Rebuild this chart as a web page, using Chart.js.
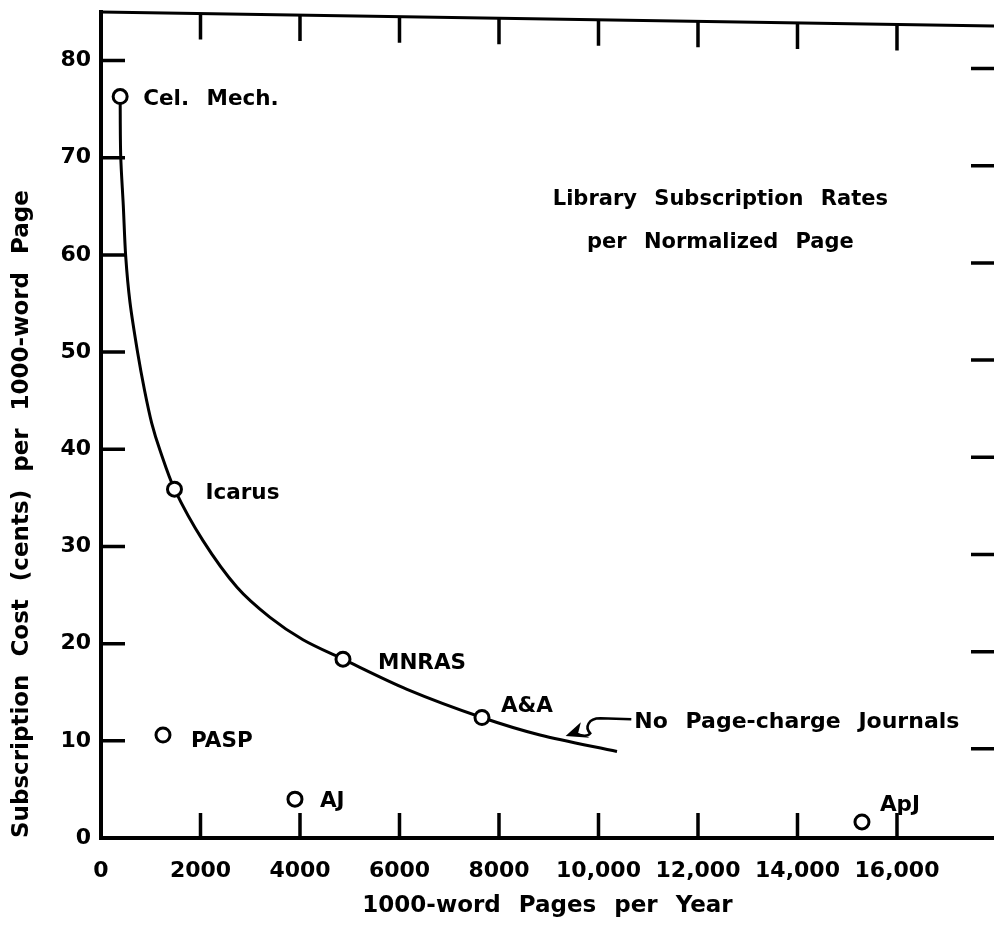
<!DOCTYPE html>
<html>
<head>
<meta charset="utf-8">
<script src="https://cdn.jsdelivr.net/npm/chart.js@4/dist/chart.umd.min.js"></script>
<style>
  html, body { margin: 0; padding: 0; background: #fff; overflow: hidden; }
  #wrap { width: 994px; height: 934px; }
</style>
</head>
<body>
<div id="wrap"><canvas id="c" width="994" height="934"></canvas></div>
<script>
// ---- Data ----
const journals      = ['Cel. Mech.', 'Icarus', 'MNRAS', 'A&A', 'PASP', 'AJ', 'ApJ'];
const pagesPerYear  = [385, 1477, 4864, 7658, 1246, 3899, 15296];
const costCents     = [76.3, 35.9, 18.4, 12.4, 10.6, 4.0, 1.65];

// curve "No Page-charge Journals"
const curvePages = [385, 396, 448, 496, 583, 738, 874, 1019, 1186, 1477,
                    2050, 2734, 3397, 4060, 4864, 6151, 7658, 8824, 10372];
const curveCost  = [76.3, 70.2, 65.1, 59.9, 55.1, 49.9, 46.1, 42.7, 39.9, 35.9,
                    30.6, 25.8, 22.7, 20.4, 18.4, 15.3, 12.4, 10.6, 8.9];

const xTickValues = [0, 2000, 4000, 6000, 8000, 10000, 12000, 14000, 16000];
const xTickLabels = ['0', '2000', '4000', '6000', '8000', '10,000', '12,000', '14,000', '16,000'];
const yTickValues = [0, 10, 20, 30, 40, 50, 60, 70, 80];
const yTickLabels = ['0', '10', '20', '30', '40', '50', '60', '70', '80'];

const titleLines  = ['Library Subscription Rates', 'per Normalized Page'];
const titleAnchor = { x: 12450, y: [65.7, 61.3] };
const curveNote   = 'No Page-charge Journals';
const noteAnchor  = { x: 10720, y: 11.9 };
const arrowTip    = { x: 9400, y: 10.6 };

// ---- Styles ----
const FONT = "'DejaVu Sans', sans-serif";
const INK = '#000';
const labelOffsets = {
  'Cel. Mech.': [23, 3], 'Icarus': [31, 4], 'MNRAS': [35, 4], 'A&A': [19, -11],
  'PASP': [28, 6], 'AJ': [25, 2], 'ApJ': [18, -17]
};
const topSlant = 14;   // the scanned frame's top edge dips toward the right

const decor = {
  id: 'decor',
  beforeDraw(chart) {
    const ctx = chart.ctx;
    ctx.fillStyle = '#fff';
    ctx.fillRect(0, 0, chart.width, chart.height);
    try { ctx.wordSpacing = '10px'; } catch (e) {}
  },
  afterDraw(chart) {
    const ctx = chart.ctx, xs = chart.scales.x, ys = chart.scales.y, a = chart.chartArea;
    const topAt = px => a.top + topSlant * (px - a.left) / (a.right - a.left);
    ctx.save();
    ctx.strokeStyle = INK;
    ctx.lineCap = 'butt';
    // frame (right edge lies just outside the picture)
    ctx.lineWidth = 4;
    ctx.beginPath();
    ctx.moveTo(a.left, a.top - 2); ctx.lineTo(a.left, a.bottom); ctx.lineTo(a.right + 2, a.bottom);
    ctx.stroke();
    ctx.lineWidth = 3;
    ctx.beginPath();
    ctx.moveTo(a.left, a.top); ctx.lineTo(a.right, topAt(a.right));
    ctx.stroke();
    // inward ticks
    ctx.lineWidth = 3.5;
    xTickValues.forEach(v => {
      if (v === 0) return;
      const px = xs.getPixelForValue(v);
      const t = topAt(px);
      ctx.beginPath();
      ctx.moveTo(px, a.bottom); ctx.lineTo(px, a.bottom - 25);
      ctx.moveTo(px, t); ctx.lineTo(px, t + 26);
      ctx.stroke();
    });
    yTickValues.forEach(v => {
      if (v === 0) return;
      const py = ys.getPixelForValue(v);
      ctx.beginPath();
      ctx.moveTo(a.left, py); ctx.lineTo(a.left + 24, py);
      ctx.moveTo(a.right + 2, py + 8); ctx.lineTo(a.right - 23, py + 8);
      ctx.stroke();
    });
    // point labels
    ctx.fillStyle = INK;
    ctx.font = "bold 21.5px " + FONT;
    ctx.textBaseline = 'middle';
    ctx.textAlign = 'left';
    journals.forEach((name, i) => {
      const px = xs.getPixelForValue(pagesPerYear[i]);
      const py = ys.getPixelForValue(costCents[i]);
      const off = labelOffsets[name];
      ctx.fillText(name, px + off[0], py + off[1]);
    });
    // title block
    ctx.font = "bold 21px " + FONT;
    ctx.textAlign = 'center';
    titleLines.forEach((t, i) => {
      ctx.fillText(t, xs.getPixelForValue(titleAnchor.x), ys.getPixelForValue(titleAnchor.y[i]));
    });
    // curve note + squiggle arrow
    ctx.font = "bold 22px " + FONT;
    ctx.textAlign = 'left';
    const nx = xs.getPixelForValue(noteAnchor.x), ny = ys.getPixelForValue(noteAnchor.y);
    ctx.fillText(curveNote, nx, ny);
    const tx = xs.getPixelForValue(arrowTip.x), ty = ys.getPixelForValue(arrowTip.y);
    ctx.lineWidth = 2.5;
    ctx.beginPath();
    ctx.moveTo(nx - 3, ny - 3);
    ctx.lineTo(nx - 34, ny - 4);
    ctx.bezierCurveTo(nx - 46, ny - 4, nx - 50, ny + 5, nx - 44, ny + 11);
    ctx.bezierCurveTo(nx - 47, ny + 15, nx - 54, ny + 13, tx + 8, ty - 1);
    ctx.stroke();
    // arrowhead
    ctx.beginPath();
    ctx.moveTo(tx, ty);
    ctx.lineTo(tx + 10, ty - 9);
    ctx.lineTo(tx + 8, ty - 1);
    ctx.lineTo(tx + 13, ty + 1);
    ctx.closePath();
    ctx.fillStyle = INK;
    ctx.fill();
    ctx.stroke();
    ctx.restore();
  }
};

new Chart(document.getElementById('c'), {
  type: 'scatter',
  data: {
    datasets: [
      {
        label: 'Journals',
        data: pagesPerYear.map((x, i) => ({ x, y: costCents[i] })),
        showLine: false,
        pointRadius: 7,
        pointBorderWidth: 3,
        pointBackgroundColor: '#fff',
        pointBorderColor: INK,
        order: 0
      },
      {
        label: 'No Page-charge Journals',
        data: curvePages.map((x, i) => ({ x, y: curveCost[i] })),
        showLine: true,
        borderColor: INK,
        borderWidth: 3,
        pointRadius: 0,
        tension: 0.3,
        order: 1
      }
    ]
  },
  options: {
    responsive: false,
    animation: false,
    devicePixelRatio: 1,
    layout: { autoPadding: false, padding: { left: 0, top: 12, right: 0, bottom: 0 } },
    plugins: { legend: { display: false }, tooltip: { enabled: false } },
    scales: {
      x: {
        type: 'linear', min: 0, max: 17950,
        grid: { display: false, drawTicks: false },
        border: { display: false },
        afterBuildTicks: s => { s.ticks = xTickValues.map(v => ({ value: v })); },
        afterFit: s => { s.height = 96; s.paddingLeft = 0; s.paddingRight = 0; },
        ticks: {
          color: INK, padding: 20, maxRotation: 0, autoSkip: false,
          font: { family: FONT, size: 22, weight: 'bold' },
          callback: v => xTickLabels[xTickValues.indexOf(v)]
        },
        title: {
          display: true, text: '1000-word Pages per Year', color: INK,
          font: { family: FONT, size: 23, weight: 'bold' },
          padding: { top: 0, bottom: 14 }
        }
      },
      y: {
        type: 'linear', min: 0, max: 85,
        grid: { display: false, drawTicks: false },
        border: { display: false },
        afterBuildTicks: s => { s.ticks = yTickValues.map(v => ({ value: v })); },
        afterFit: s => { s.width = 101; s.paddingTop = 0; s.paddingBottom = 0; },
        ticks: {
          color: INK, padding: 10, autoSkip: false,
          font: { family: FONT, size: 22, weight: 'bold' },
          callback: v => yTickLabels[yTickValues.indexOf(v)]
        },
        title: {
          display: true, text: 'Subscription Cost (cents) per 1000-word Page', color: INK,
          align: 'start',
          font: { family: FONT, size: 23, weight: 'bold' },
          padding: { top: 8, bottom: 0 }
        }
      }
    }
  },
  plugins: [decor]
});
</script>
</body>
</html>
